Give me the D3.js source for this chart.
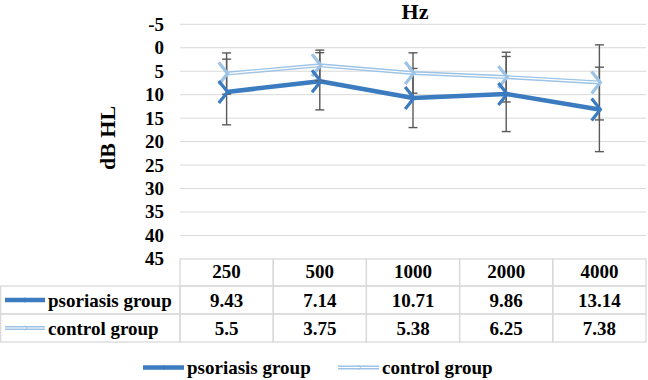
<!DOCTYPE html>
<html>
<head>
<meta charset="utf-8">
<script src="https://cdn.jsdelivr.net/npm/d3@7"></script>
<style>
  body { margin: 0; background: #fff; }
</style>
</head>
<body>
<div id="container"></div>
<script>
var freqs = ["250", "500", "1000", "2000", "4000"];
var psoriasis = [9.43, 7.14, 10.71, 9.86, 13.14];
var control = [5.5, 3.75, 5.38, 6.25, 7.38];
// error bar half-lengths
var psoriasisSD = [7.0, 6.1, 6.3, 8.0, 9.0];
var controlSD = [4.4, 3.25, 4.3, 5.3, 8.0];
var yTicks = [-5, 0, 5, 10, 15, 20, 25, 30, 35, 40, 45];

var W = 648, H = 380;
var plotL = 180, plotR = 646, plotT = 24.3, plotB = 258.9;
var dark = "#3b7bbf", light = "#9dc3e6", gridCol = "#d9d9d9", errCol = "#595959";

var svg = d3.select("#container").append("svg")
  .attr("width", W)
  .attr("height", H);

var x = d3.scaleBand().domain(freqs).range([plotL, plotR]);
var y = d3.scaleLinear().domain([-5, 45]).range([plotT, plotB]);

// gridlines
svg.selectAll(".grid")
  .data(yTicks.slice(0, -1))
  .enter().append("line")
    .attr("class", "grid")
    .attr("x1", plotL).attr("x2", plotR)
    .attr("y1", d => y(d)).attr("y2", d => y(d))
    .attr("stroke", gridCol).attr("stroke-width", 1);

// y tick labels
svg.selectAll(".ytick")
  .data(yTicks)
  .enter().append("text")
    .attr("class", "ytick")
    .attr("x", 164)
    .attr("y", d => y(d) + 6.5)
    .attr("text-anchor", "end")
    .style("font-size", "19px")
    .text(d => d);

svg.append("text")
  .attr("transform", "translate(115,138) rotate(-90)")
  .attr("text-anchor", "middle")
  .style("font-size", "22px")
  .text("dB HL");

svg.append("text")
  .attr("x", (plotL + plotR) / 2 + 2)
  .attr("y", 18.5)
  .attr("text-anchor", "middle")
  .style("font-size", "22px")
  .text("Hz");

var cx = d => x(d) + x.bandwidth() / 2;

var line = d3.line()
  .x((d, i) => cx(freqs[i]))
  .y(d => y(d));

// psoriasis line
svg.append("path")
  .attr("d", line(psoriasis))
  .attr("fill", "none").attr("stroke", dark).attr("stroke-width", 4.5)
  .attr("stroke-linejoin", "round");

// control line, double style
svg.append("path")
  .attr("d", line(control))
  .attr("fill", "none").attr("stroke", light).attr("stroke-width", 4);
svg.append("path")
  .attr("d", line(control))
  .attr("fill", "none").attr("stroke", "#fff").attr("stroke-width", 1.2);

function errorBars(vals, sds) {
  var g = svg.append("g");
  vals.forEach(function (v, i) {
    var px = cx(freqs[i]);
    var lo = y(v - sds[i]), hi = y(v + sds[i]);
    g.append("line").attr("x1", px).attr("x2", px).attr("y1", lo).attr("y2", hi)
      .attr("stroke", errCol).attr("stroke-width", 1.4);
    [lo, hi].forEach(function (yy) {
      g.append("line").attr("x1", px - 4.5).attr("x2", px + 4.5).attr("y1", yy).attr("y2", yy)
        .attr("stroke", errCol).attr("stroke-width", 1.4);
    });
  });
}
errorBars(control, controlSD);
errorBars(psoriasis, psoriasisSD);

function chevron(px, py, s) {
  return "M" + (px - 0.8 * s) + "," + (py - s) + "L" + px + "," + py + "L" + (px - 0.8 * s) + "," + (py + s);
}

function markers(vals, col) {
  svg.append("g").selectAll("path")
    .data(vals)
    .enter().append("path")
      .attr("d", (d, i) => chevron(cx(freqs[i]) + 1, y(d), 11))
      .attr("fill", "none").attr("stroke", col).attr("stroke-width", 3.2);
}
markers(control, light);
markers(psoriasis, dark);

// data table
var rowTop = 259, rowH = [27, 28, 28];
var tbl = svg.append("g");
var rows = [
  { name: "psoriasis group", vals: psoriasis, col: dark, dbl: false },
  { name: "control group", vals: control, col: light, dbl: true }
];

// header cells
freqs.forEach(function (f) {
  tbl.append("rect").attr("x", x(f)).attr("y", rowTop).attr("width", x.bandwidth()).attr("height", rowH[0])
    .attr("fill", "none").attr("stroke", gridCol).attr("stroke-width", 1.3);
  tbl.append("text").attr("x", cx(f)).attr("y", rowTop + 19).attr("text-anchor", "middle")
    .style("font-size", "19px").text(f);
});

function legendIcon(g, x0, x1, yy, r) {
  g.append("line").attr("x1", x0).attr("x2", x1).attr("y1", yy).attr("y2", yy)
    .attr("stroke", r.col).attr("stroke-width", r.dbl ? 4 : 4.5);
  if (r.dbl) {
    g.append("line").attr("x1", x0).attr("x2", x1).attr("y1", yy).attr("y2", yy)
      .attr("stroke", "#fff").attr("stroke-width", 1.2);
  }
  var mx = (x0 + x1) / 2;
  g.append("path").attr("d", chevron(mx + 2, yy, 2.5))
    .attr("fill", "none").attr("stroke", r.col).attr("stroke-width", 1);
}

var ry = rowTop + rowH[0];
rows.forEach(function (r, k) {
  var h = rowH[k + 1];
  tbl.append("rect").attr("x", 0.7).attr("y", ry).attr("width", plotL - 0.7).attr("height", h)
    .attr("fill", "none").attr("stroke", gridCol).attr("stroke-width", 1.3);
  legendIcon(tbl, 5, 45, ry + h / 2, r);
  tbl.append("text").attr("x", 48).attr("y", ry + h / 2 + 6.5).style("font-size", "19px").text(r.name);
  freqs.forEach(function (f, i) {
    tbl.append("rect").attr("x", x(f)).attr("y", ry).attr("width", x.bandwidth()).attr("height", h)
      .attr("fill", "none").attr("stroke", gridCol).attr("stroke-width", 1.3);
    tbl.append("text").attr("x", cx(f)).attr("y", ry + h / 2 + 6.5).attr("text-anchor", "middle")
      .style("font-size", "19px").text(r.vals[i]);
  });
  ry += h;
});

// bottom legend
var leg = svg.append("g");
var legPos = [143, 338];
rows.forEach(function (r, k) {
  legendIcon(leg, legPos[k], legPos[k] + 41, 367.5, r);
  leg.append("text").attr("x", legPos[k] + 44).attr("y", 373.5).style("font-size", "19px").text(r.name);
});

// serif bold on every text, set per element
svg.selectAll("text")
  .style("font-family", "'Liberation Serif', monospace")
  .style("font-weight", "bold")
  .attr("fill", "#000");
</script>
</body>
</html>
